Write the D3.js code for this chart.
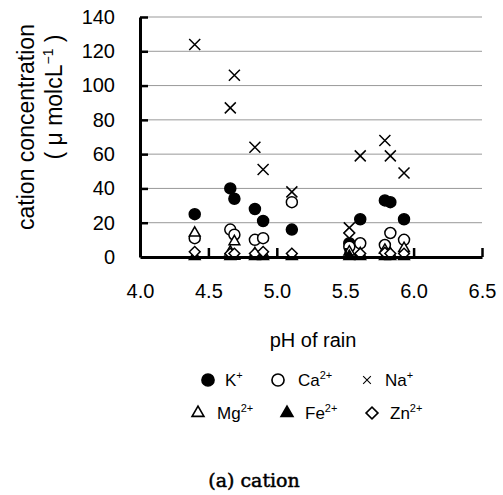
<!DOCTYPE html>
<html>
<head>
<meta charset="utf-8">
<script src="https://cdn.jsdelivr.net/npm/d3@7"></script>
<style>
  body { margin: 0; background: #fff; }
  text { font-family: Arial, "Liberation Sans", sans-serif; fill: #000; }
</style>
</head>
<body>
<svg id="chart" width="503" height="495"></svg>
<script>
// pH of each rain sample
var phRain = [4.40, 4.66, 4.69, 4.84, 4.90, 5.11, 5.53, 5.61, 5.79, 5.83, 5.93];

// cation concentrations (umolc/L) per sample
var kVals  = [25, 40, 34, 28, 21, 16, 8, 22, 33, 32, 22];
var caVals = [11, 16, 13, 10, 11, 32, 6, 8, 7, 14, 10];
var naVals = [124, 87, 106, 64, 51, 38, 17, 59, 68, 59, 49];
var mgVals = [14, 3, 9, 2, 2, 1, 3, 2, 4, 2, 5];
var feVals = [0.4, 0.3, 0.5, 0.3, 0.4, 0.3, 0.4, 0.3, 0.4, 0.3, 0.4];
var znVals = [3, 2, 2, 2, 3, 2, 14, 2, 2.5, 2, 2];

var xTicks = [4.0, 4.5, 5.0, 5.5, 6.0, 6.5];
var yTicks = [0, 20, 40, 60, 80, 100, 120, 140];

var svg = d3.select("#chart");

var xScale = d3.scaleLinear().domain([4.0, 6.5]).range([140, 482]);
var yScale = d3.scaleLinear().domain([0, 140]).range([257, 17]);

// gridlines
svg.append("g").selectAll("line")
  .data(yTicks.filter(function(d) { return d > 0; }))
  .enter().append("line")
  .attr("x1", xScale(4.0)).attr("x2", xScale(6.5))
  .attr("y1", function(d) { return yScale(d); })
  .attr("y2", function(d) { return yScale(d); })
  .attr("stroke", "#999").attr("stroke-width", 1);

// series markers
var markerPath = {
  circle:   d3.symbol().type(d3.symbolCircle).size(95)(),
  triangle: d3.symbol().type(d3.symbolTriangle).size(50)(),
  diamond:  d3.symbol().type(d3.symbolSquare).size(58)(),
  cross:    "M-5.5,-5.5L5.5,5.5M-5.5,5.5L5.5,-5.5"
};

var series = [
  { name: "K",  sup: "+",  vals: kVals,  shape: "circle",   fill: "#000" },
  { name: "Ca", sup: "2+", vals: caVals, shape: "circle",   fill: "#fff" },
  { name: "Na", sup: "+",  vals: naVals, shape: "cross",    fill: "none" },
  { name: "Mg", sup: "2+", vals: mgVals, shape: "triangle", fill: "#fff" },
  { name: "Fe", sup: "2+", vals: feVals, shape: "triangle", fill: "#000" },
  { name: "Zn", sup: "2+", vals: znVals, shape: "diamond",  fill: "#fff" }
];

function drawMarker(g, s, x, y, scale) {
  g.append("path")
    .attr("d", markerPath[s.shape])
    .attr("transform", "translate(" + x + "," + y + ")" +
      (s.shape == "diamond" ? " rotate(45)" : "") + (scale ? " scale(" + scale + ")" : ""))
    .attr("fill", s.fill)
    .attr("stroke", "#000")
    .attr("stroke-width", 1.5);
}

var plot = svg.append("g");
series.forEach(function(s) {
  s.vals.forEach(function(v, i) {
    drawMarker(plot, s, xScale(phRain[i]), yScale(v));
  });
});

// axes
var xAxis = svg.append("g")
  .attr("class", "axis")
  .attr("transform", "translate(0," + yScale(0) + ")")
  .call(d3.axisBottom(xScale).tickValues(xTicks).tickFormat(d3.format(".1f"))
    .tickSizeInner(-9).tickSizeOuter(0).tickPadding(27));

var yAxis = svg.append("g")
  .attr("class", "axis")
  .attr("transform", "translate(" + xScale(4.0) + ",0)")
  .call(d3.axisLeft(yScale).tickValues(yTicks)
    .tickSizeInner(-8).tickSizeOuter(0).tickPadding(25));

svg.selectAll(".axis .domain").attr("stroke", "#000").attr("stroke-width", 3);
svg.selectAll(".axis .tick line").attr("stroke", "#000").attr("stroke-width", 2.5);
svg.selectAll(".axis text").style("font-size", "20px").attr("fill", "#000");
xAxis.selectAll(".tick").filter(function(d) { return d == 4.0; }).select("line").remove();
yAxis.selectAll(".tick").filter(function(d) { return d == 0; }).select("line").remove();

// labels
svg.append("text")
  .attr("x", 313).attr("y", 347)
  .attr("text-anchor", "middle")
  .style("font-size", "20px")
  .text("pH of rain");

svg.append("text")
  .attr("transform", "translate(34,127) rotate(-90)")
  .attr("text-anchor", "middle")
  .style("font-size", "23px")
  .text("cation concentration");

var yl2 = svg.append("text")
  .attr("transform", "translate(62,97) rotate(-90)")
  .attr("text-anchor", "middle")
  .style("font-size", "23px");
yl2.append("tspan").text("( \u03bc molcL");
yl2.append("tspan").attr("dy", -9).style("font-size", "14px").text("\u22121");
yl2.append("tspan").attr("dy", 9).text(" )");

// legend
var legendPos = [
  { mx: 208, tx: 225, y: 380 },
  { mx: 278, tx: 298, y: 380 },
  { mx: 367, tx: 385, y: 380 },
  { mx: 198, tx: 217, y: 413 },
  { mx: 287, tx: 305, y: 413 },
  { mx: 372, tx: 390, y: 413 }
];
var legend = svg.append("g");
series.forEach(function(s, i) {
  var p = legendPos[i];
  drawMarker(legend, s, p.mx, p.y, s.shape == "cross" ? 0.7 : 1.1);
  var t = legend.append("text")
    .attr("x", p.tx).attr("y", p.y + 6)
    .style("font-size", "17px");
  t.append("tspan").text(s.name);
  t.append("tspan").attr("dy", -7).style("font-size", "11px").text(s.sup);
});

// caption
svg.append("text")
  .attr("x", 254).attr("y", 487)
  .attr("text-anchor", "middle")
  .style("font-family", "'DejaVu Serif', serif")
  .style("font-size", "19px")
  .attr("stroke", "#000")
  .attr("stroke-width", 0.5)
  .text("(a) cation");
</script>
</body>
</html>
